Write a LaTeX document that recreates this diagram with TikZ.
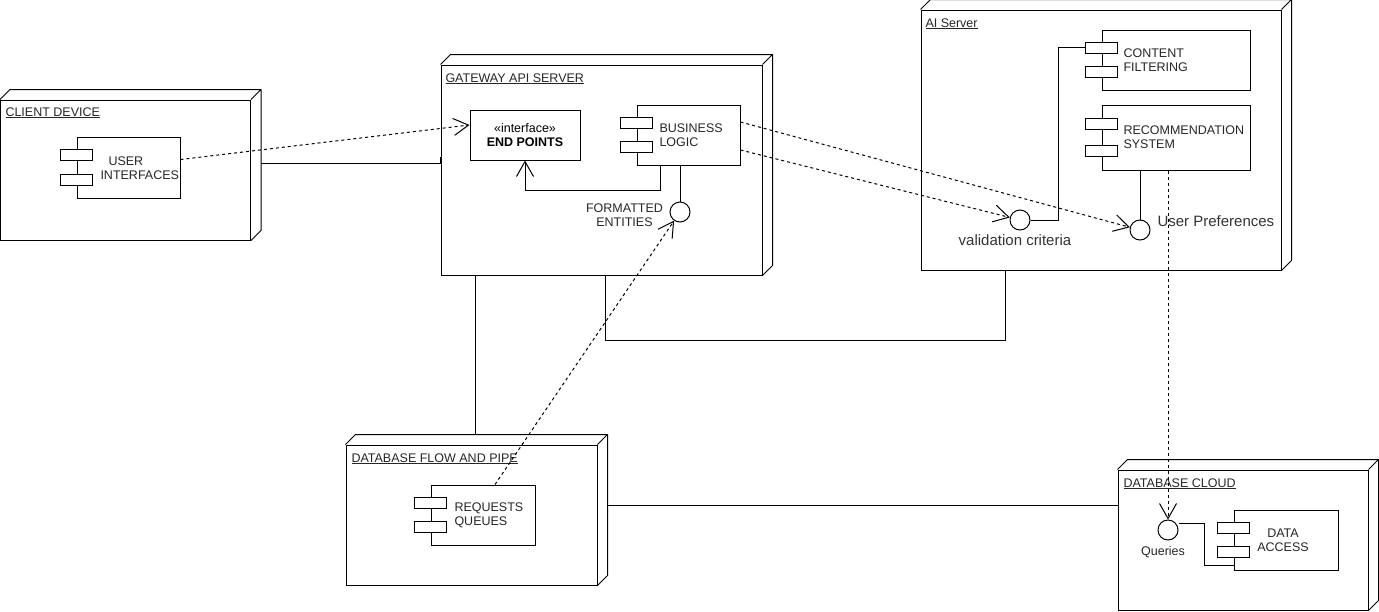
\documentclass[tikz,border=0pt]{standalone}
\usepackage{fontspec}
\setmainfont{Liberation Sans}
\usetikzlibrary{arrows.meta,calc}

\tikzset{
  devbox/.style={draw, inner sep=0pt},
  comp/.style={draw, fill=white, inner sep=0pt, minimum height=60pt},
  tab/.style={draw, fill=white, inner sep=0pt, minimum width=32pt, minimum height=11pt},
  iface/.style={draw, circle, fill=white, minimum size=20pt, inner sep=0pt},
  lbl/.style={font=\fontsize{12.5}{14}\selectfont, inner sep=0pt, text=black!85},
  biglbl/.style={font=\fontsize{15}{17}\selectfont, inner sep=0pt, text=black!80},
  dep/.style={dash pattern=on 3pt off 3pt},
  opena/.style={-{Straight Barb[length=15pt,width=17pt]}},
}

\begin{document}
\begin{tikzpicture}[x=1pt,y=-1pt,line width=1pt]
\useasboundingbox (0,0) rectangle (1379,611);

\node[devbox, minimum width=250pt, minimum height=140pt] (client) at (125.5,170) {};
\node[devbox, minimum width=321pt, minimum height=210pt] (gateway) at (601.5,170) {};
\node[devbox, minimum width=360pt, minimum height=260pt] (aiserver) at (1101,140) {};
\node[devbox, minimum width=251pt, minimum height=140pt] (dbflow) at (471.5,515) {};
\node[devbox, minimum width=250pt, minimum height=140pt] (dbcloud) at (1243,540) {};
\foreach \n in {client,gateway,aiserver,dbflow,dbcloud}
  \draw[line join=bevel] (\n.north west) -- ++(10,-10) -| ([shift={(10pt,10pt)}]\n.south east) -- (\n.south east) (\n.north east) -- ++(10,-10);

\node[lbl, anchor=base west] (client-t) at (5,116) {\underline{CLIENT DEVICE}};
\node[lbl, anchor=base west] (gateway-t) at (445,82) {\underline{GATEWAY API SERVER}};
\node[lbl, anchor=base west] (aiserver-t) at (925,27) {\underline{AI Server}};
\node[lbl, anchor=base west] (dbflow-t) at (351,462) {\underline{DATABASE FLOW AND PIPE}};
\node[lbl, anchor=base west] (dbcloud-t) at (1123,487) {\underline{DATABASE CLOUD}};

\node[comp, minimum width=103pt, minimum height=61pt] (ui) at (128.5,167.5) {};
\node[comp, minimum width=103pt] (logic) at (688.5,135) {};
\node[comp, minimum width=148pt] (filter) at (1176,60) {};
\node[comp, minimum width=148pt, minimum height=65pt] (recsys) at (1176,137.5) {};
\node[comp, minimum width=104pt] (queues) at (483,515) {};
\node[comp, minimum width=104pt] (dataacc) at (1286,540) {};
\foreach \n in {ui,logic,filter,recsys,queues,dataacc} {
  \node[tab] (\n-a) at ($(\n.north west)!0.3!(\n.south west)$) {};
  \node[tab] (\n-b) at ($(\n.north west)!0.7!(\n.south west)$) {};
}

\node[lbl, align=left, anchor=west] (ui-t) at (100,168.5) {\hspace*{8pt}USER\\INTERFACES};
\node[lbl, align=left, anchor=west] (logic-t) at (659,135.5) {BUSINESS\\LOGIC};
\node[lbl, align=left, anchor=west] (filter-t) at (1123,60.5) {CONTENT\\FILTERING};
\node[lbl, align=left, anchor=west] (recsys-t) at (1123,137.5) {RECOMMENDATION\\SYSTEM};
\node[lbl, align=left, anchor=west] (queues-t) at (454,515.5) {REQUESTS\\QUEUES};
\node[lbl, align=center] (dataacc-t) at (1283,540.5) {DATA\\ACCESS};

\node[draw, lbl, text=black, align=center, minimum width=110pt, minimum height=50pt] (endpoints) at (525,135) {«interface»\\\textbf{END POINTS}};

\node[iface] (fmt) at (680,212) {};
\node[iface] (valid) at (1020,220) {};
\node[iface] (prefs) at (1140,230) {};
\node[iface] (queries) at (1168,530) {};
\node[lbl, align=center] (fmt-t) at (624.5,215.5) {FORMATTED\\ENTITIES};
\node[biglbl, anchor=base] (valid-t) at (1015,245) {validation criteria};
\node[biglbl, anchor=base west] (prefs-t) at (1157,226) {User Preferences};
\node[lbl, anchor=base] (queries-t) at (1163,555) {Queries};

\coordinate (gw-dbf) at ([xshift=-126.5pt]gateway.south);
\coordinate (dbflow-top) at ([yshift=10pt]dbflow.north);
\coordinate (dbflow-side) at ([shift={(9pt,10pt)}]dbflow.east);

\draw ([shift={(10pt,7pt)}]client.east) -| ([yshift=13pt]gateway.west);
\draw[dep, opena] ([yshift=8pt]ui.east) -- ([yshift=10pt]endpoints.west);
\draw[opena] ([xshift=-28.5pt]logic.south) -- ++(0,25) -| (endpoints.south);
\draw (fmt) -- (fmt |- logic.south);
\draw[dep, opena] ([xshift=12pt]queues.north) -- (fmt);
\draw[dep, opena] ([yshift=13pt]logic.east) -- (prefs);
\draw[dep, opena] ([yshift=-15pt]logic.east) -- (valid);
\draw (valid.east) -- ++(28,0) |- (filter-a.west);
\draw (prefs) -- (prefs |- recsys.south);
\draw[dep, opena] (queries |- recsys.south) -- (queries);
\draw ([yshift=7pt]queries.east) -- ++(26,0) |- ([yshift=-25pt]dataacc.west);
\draw ([xshift=3.5pt]gateway.south) -- ++(0,65) -| ([xshift=-96pt]aiserver.south);
\draw (gw-dbf) -- (gw-dbf |- dbflow-top);
\draw (dbflow-side) -- (dbflow-side -| dbcloud.west);
\end{tikzpicture}
\end{document}
